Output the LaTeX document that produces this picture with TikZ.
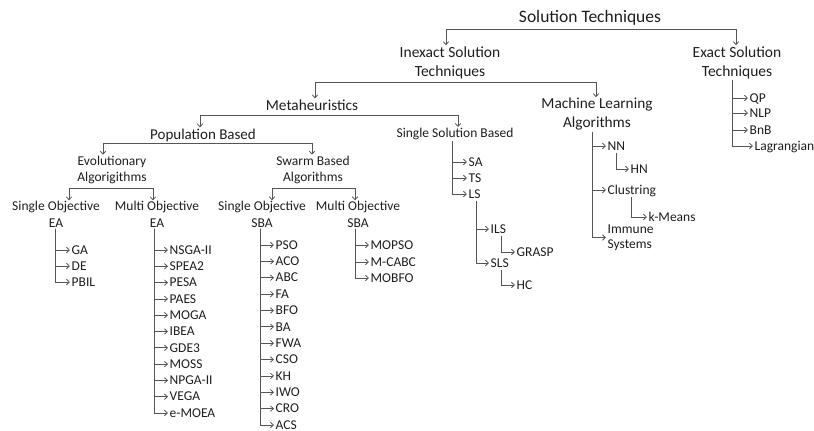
\documentclass[tikz,border=0pt]{standalone}
\usepackage{fontspec}
\setmainfont{Carlito}
\usetikzlibrary{arrows.meta}
\definecolor{txt}{HTML}{1E1E1E}
\definecolor{ln}{HTML}{555555}
\tikzset{
  lbl/.style={inner sep=1pt, text=txt, align=center},
  big/.style={lbl, font=\fontsize{17.5}{20}\selectfont},
  lvtwo/.style={lbl, font=\fontsize{15.5}{19}\selectfont},
  lvthree/.style={lbl, font=\fontsize{15.3}{19}\selectfont},
  mid/.style={lbl, font=\fontsize{13.5}{16.5}\selectfont},
  leaf/.style={anchor=west, inner sep=1.5pt, text=txt, font=\fontsize{13.5}{16}\selectfont, text height=10pt, text depth=1.5pt},
  conn/.style={draw=ln, line width=0.8pt},
  arr/.style={conn, -{Straight Barb[length=3pt,width=5.5pt]}}
}
\begin{document}
\begin{tikzpicture}[x=1pt,y=-1pt]
\useasboundingbox (0,0) rectangle (814,431);

% ---- top levels
\node[big] (st) at (590,18) {Solution Techniques};
\node[lvtwo] (inexact) at (450,62.5) {Inexact Solution\\Techniques};
\node[lvtwo] (exact) at (737,62.5) {Exact Solution\\Techniques};
\coordinate (b1l) at (446,29); \coordinate (b1r) at (736,29);
\draw[conn] (b1l) -- (b1r);
\draw[arr] (b1l) -- (b1l |- inexact.north);
\draw[arr] (b1r) -- (b1r |- exact.north);

% ---- exact list
\coordinate (vex) at (732,0);
\foreach \n/\t/\y/\x in {qp/QP/98/748, nlp/NLP/113/748, bnb/BnB/130/748, lag/Lagrangian/146/753}{
  \node[leaf] (\n) at (\x,\y) {\t};
  \draw[arr] (exact.south -| vex) |- (\n.west);
}

% ---- inexact
\node[lvthree] (meta) at (312,105) {Metaheuristics};
\node[lvthree] (ml) at (597,114.5) {Machine Learning\\Algorithms};
\coordinate (b2l) at (315,82); \coordinate (b2r) at (596,82);
\draw[conn] (b2l) -- (b2r);
\draw[arr] (b2l) -- (b2l |- meta.north);
\draw[arr] (b2r) -- (b2r |- ml.north);

% ---- metaheuristics
\node[lbl, font=\fontsize{15}{18}\selectfont] (pop) at (203,135) {Population Based};
\node[mid] (ssb) at (455,134) {Single Solution Based};
\coordinate (b3l) at (200,115); \coordinate (b3r) at (458,115);
\draw[conn] (b3l) -- (b3r);
\draw[arr] (b3l) -- (b3l |- pop.north);
\draw[arr] (b3r) -- (b3r |- ssb.north);

% ---- population based
\node[mid] (evo) at (112,170) {Evolutionary\\Algorigithms};
\node[mid] (swarm) at (313,170) {Swarm Based\\Algorithms};
\coordinate (b4l) at (103,143); \coordinate (b4r) at (312,143);
\draw[conn] (b4l) -- (b4r);
\draw[arr] (b4l) -- (b4l |- evo.north);
\draw[arr] (b4r) -- (b4r |- swarm.north);

% ---- evolutionary
\node[mid] (soea) at (56,214.5) {Single Objective\\EA};
\node[mid] (moea) at (157,214.5) {Multi Objective\\EA};
\coordinate (b5l) at (69,188); \coordinate (b5r) at (153,188);
\draw[conn] (b5l) -- (b5r);
\draw[arr] (b5l) -- (b5l |- soea.north);
\draw[arr] (b5r) -- (b5r |- moea.north);

% ---- swarm
\node[mid] (sosba) at (262,214.5) {Single Objective\\SBA};
\node[mid] (mosba) at (358,214.5) {Multi Objective\\SBA};
\coordinate (b6l) at (272,188); \coordinate (b6r) at (355,188);
\draw[conn] (b6l) -- (b6r);
\draw[arr] (b6l) -- (b6l |- sosba.north);
\draw[arr] (b6r) -- (b6r |- mosba.north);

% ---- SO EA list
\coordinate (vsoea) at (55,0);
\foreach \n/\t/\y in {ga/GA/250, de/DE/266, pbil/PBIL/282}{
  \node[leaf] (\n) at (70,\y) {\t};
  \draw[arr] (soea.south -| vsoea) |- (\n.west);
}

% ---- MO EA list
\coordinate (vmoea) at (154,0);
\foreach \n/\t/\y in {nsga/NSGA-II/250, spea/SPEA2/266.3, pesa/PESA/282.6, paes/PAES/298.9, moga/MOGA/315.2, ibea/IBEA/331.5, gde/GDE3/347.8, moss/MOSS/364.1, npga/NPGA-II/380.4, vega/VEGA/396.7, emoea/e-MOEA/413}{
  \node[leaf] (\n) at (168,\y) {\t};
  \draw[arr] (moea.south -| vmoea) |- (\n.west);
}

% ---- SO SBA list
\coordinate (vsosba) at (260,0);
\foreach \n/\t/\y in {pso/PSO/245, aco/ACO/261.4, abc/ABC/277.7, fa/FA/294.1, bfo/BFO/310.5, ba/BA/326.8, fwa/FWA/343.2, cso/CSO/359.5, kh/KH/375.9, iwo/IWO/392.3, cro/CRO/408.6, acs/ACS/425}{
  \node[leaf] (\n) at (274,\y) {\t};
  \draw[arr] (sosba.south -| vsosba) |- (\n.west);
}

% ---- MO SBA list
\coordinate (vmosba) at (355,0);
\foreach \n/\t/\y in {mopso/MOPSO/245, mcabc/M-CABC/262, mobfo/MOBFO/278}{
  \node[leaf] (\n) at (369,\y) {\t};
  \draw[arr] (mosba.south -| vmosba) |- (\n.west);
}

% ---- single solution list
\coordinate (vssb) at (452,0);
\foreach \n/\t/\y in {sa/SA/162, ts/TS/178, ls/LS/194}{
  \node[leaf] (\n) at (467,\y) {\t};
  \draw[arr] (ssb.south -| vssb) |- (\n.west);
}
\coordinate (vls) at (476,0);
\foreach \n/\t/\y in {ils/ILS/229, sls/SLS/263}{
  \node[leaf] (\n) at (489,\y) {\t};
  \draw[arr] (ls.south -| vls) |- (\n.west);
}
\coordinate (vils) at (501,0);
\node[leaf] (grasp) at (515,252) {GRASP};
\draw[arr] (ils.south -| vils) |- (grasp.west);
\node[leaf] (hc) at (515,285) {HC};
\draw[arr] (sls.south -| vils) |- (hc.west);

% ---- machine learning list
\coordinate (vml) at (592,0);
\node[leaf] (nn) at (606,146) {NN};
\node[leaf] (clu) at (606,190) {Clustring};
\node[anchor=west, inner sep=1.5pt, text=txt, align=left, font=\fontsize{13.5}{15}\selectfont] (imm) at (606,237.5) {Immune\\Systems};
\foreach \n in {nn, clu, imm}{
  \draw[arr] (ml.south -| vml) |- (\n.west);
}
\coordinate (vnn) at (616,0);
\node[leaf] (hn) at (629,169) {HN};
\draw[arr] (nn.south -| vnn) |- (hn.west);
\coordinate (vclu) at (631,0);
\node[leaf] (km) at (647,217) {k-Means};
\draw[arr] (clu.south -| vclu) |- (km.west);
\end{tikzpicture}
\end{document}
